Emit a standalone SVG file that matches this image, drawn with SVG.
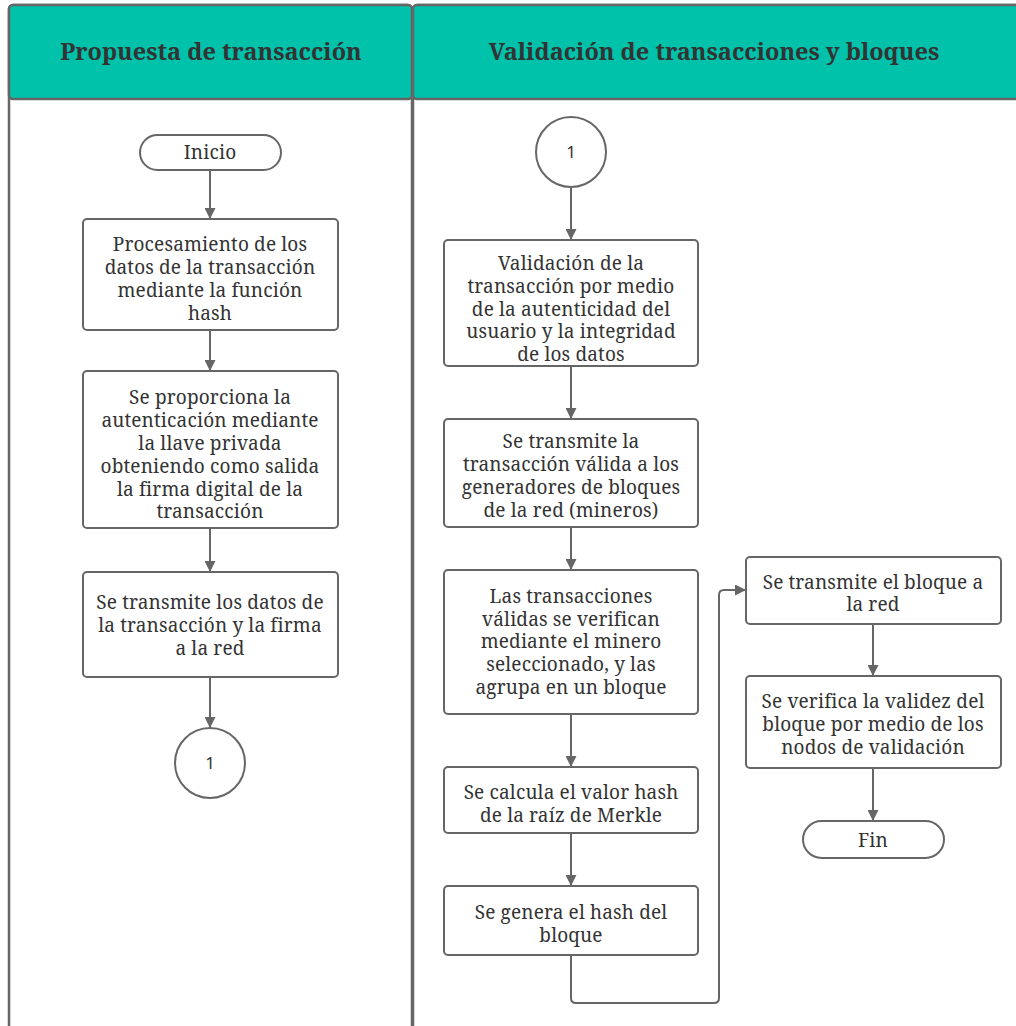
<svg xmlns="http://www.w3.org/2000/svg" width="1016" height="1026" viewBox="0 0 1016 1026">
  <style>
    .lane { fill: #ffffff; stroke: #666666; stroke-width: 2.5; }
    .head { fill: #00c1a9; stroke: #666666; stroke-width: 2.5; }
    .htxt { font-family: "Noto Serif", "DejaVu Serif", serif; font-weight: bold; font-size: 23.5px; fill: #333333; text-anchor: middle; }
    .box { fill: #ffffff; stroke: #666666; stroke-width: 2; }
    .txt { font-family: "Noto Serif", "DejaVu Serif", serif; font-size: 19px; letter-spacing: 0.15px; fill: #333333; text-anchor: middle; }
    .num { font-family: "Noto Sans", "DejaVu Sans", sans-serif; font-size: 17px; fill: #333333; text-anchor: middle; }
    .edge { fill: none; stroke: #666666; stroke-width: 2; marker-end: url(#arrow); }
  </style>
  <defs>
    <marker id="arrow" viewBox="0 0 10 10" refX="10" refY="5" markerWidth="5.5" markerHeight="5.5" orient="auto" markerUnits="strokeWidth">
      <path d="M0,0 L10,5 L0,10 z" fill="#666666"/>
    </marker>
  </defs>

  <!-- swimlanes -->
  <g id="lane-propuesta">
    <rect class="lane" x="9" y="5" width="403" height="1040" rx="4"/>
    <rect class="head" x="9" y="5" width="403" height="94" rx="4"/>
    <text class="htxt" x="211" y="60">Propuesta de transacción</text>
  </g>
  <g id="lane-validacion">
    <rect class="lane" x="413" y="5" width="620" height="1040" rx="4"/>
    <rect class="head" x="413" y="5" width="620" height="94" rx="4"/>
    <text class="htxt" x="714" y="60">Validación de transacciones y bloques</text>
  </g>

  <!-- connectors -->
  <g id="connectors">
    <path class="edge" d="M210,170 V219"/>
    <path class="edge" d="M210,330 V371"/>
    <path class="edge" d="M210,528 V572"/>
    <path class="edge" d="M210,677 V728"/>
    <path class="edge" d="M571,187 V240"/>
    <path class="edge" d="M571,366 V419"/>
    <path class="edge" d="M571,527 V570"/>
    <path class="edge" d="M571,714 V767"/>
    <path class="edge" d="M571,833 V886"/>
    <path class="edge" d="M571,955 V998 Q571,1003 576,1003 H714 Q719,1003 719,998 V595 Q719,590 724,590 H746"/>
    <path class="edge" d="M873,624 V676"/>
    <path class="edge" d="M873,768 V821"/>
  </g>

  <!-- left lane nodes -->
  <g id="inicio">
    <rect class="box" x="140" y="135" width="141" height="35" rx="17.5"/>
    <text class="txt" x="210" y="159">Inicio</text>
  </g>
  <g id="hash-datos">
    <rect class="box" x="83" y="219" width="255" height="111" rx="4"/>
    <text class="txt" x="210" y="251">Procesamiento de los</text>
    <text class="txt" x="210" y="274">datos de la transacción</text>
    <text class="txt" x="210" y="297">mediante la función</text>
    <text class="txt" x="210" y="320">hash</text>
  </g>
  <g id="firma">
    <rect class="box" x="83" y="371" width="255" height="157" rx="4"/>
    <text class="txt" x="210" y="404">Se proporciona la</text>
    <text class="txt" x="210" y="427">autenticación mediante</text>
    <text class="txt" x="210" y="450">la llave privada</text>
    <text class="txt" x="210" y="473">obteniendo como salida</text>
    <text class="txt" x="210" y="496">la firma digital de la</text>
    <text class="txt" x="210" y="518">transacción</text>
  </g>
  <g id="transmite-datos">
    <rect class="box" x="83" y="572" width="255" height="105" rx="4"/>
    <text class="txt" x="210" y="609">Se transmite los datos de</text>
    <text class="txt" x="210" y="632">la transacción y la firma</text>
    <text class="txt" x="210" y="655">a la red</text>
  </g>
  <g id="conector-1-salida">
    <circle class="box" cx="210" cy="763" r="35"/>
    <text class="num" x="210" y="769">1</text>
  </g>

  <!-- right lane nodes -->
  <g id="conector-1-entrada">
    <circle class="box" cx="571" cy="152" r="35"/>
    <text class="num" x="571" y="158">1</text>
  </g>
  <g id="validacion">
    <rect class="box" x="444" y="240" width="254" height="126" rx="4"/>
    <text class="txt" x="571" y="270">Validación de la</text>
    <text class="txt" x="571" y="293">transacción por medio</text>
    <text class="txt" x="571" y="316">de la autenticidad del</text>
    <text class="txt" x="571" y="338">usuario y la integridad</text>
    <text class="txt" x="571" y="361">de los datos</text>
  </g>
  <g id="transmite-valida">
    <rect class="box" x="444" y="419" width="254" height="108" rx="4"/>
    <text class="txt" x="571" y="448">Se transmite la</text>
    <text class="txt" x="571" y="471">transacción válida a los</text>
    <text class="txt" x="571" y="494">generadores de bloques</text>
    <text class="txt" x="571" y="517">de la red (mineros)</text>
  </g>
  <g id="agrupa-bloque">
    <rect class="box" x="444" y="570" width="254" height="144" rx="4"/>
    <text class="txt" x="571" y="603">Las transacciones</text>
    <text class="txt" x="571" y="626">válidas se verifican</text>
    <text class="txt" x="571" y="648">mediante el minero</text>
    <text class="txt" x="571" y="671">seleccionado, y las</text>
    <text class="txt" x="571" y="694">agrupa en un bloque</text>
  </g>
  <g id="merkle">
    <rect class="box" x="444" y="767" width="254" height="66" rx="4"/>
    <text class="txt" x="571" y="799">Se calcula el valor hash</text>
    <text class="txt" x="571" y="822">de la raíz de Merkle</text>
  </g>
  <g id="hash-bloque">
    <rect class="box" x="444" y="886" width="254" height="69" rx="4"/>
    <text class="txt" x="571" y="919">Se genera el hash del</text>
    <text class="txt" x="571" y="942">bloque</text>
  </g>
  <g id="transmite-bloque">
    <rect class="box" x="746" y="557" width="255" height="67" rx="4"/>
    <text class="txt" x="873" y="589">Se transmite el bloque a</text>
    <text class="txt" x="873" y="611">la red</text>
  </g>
  <g id="verifica-bloque">
    <rect class="box" x="746" y="676" width="255" height="92" rx="4"/>
    <text class="txt" x="873" y="708">Se verifica la validez del</text>
    <text class="txt" x="873" y="731">bloque por medio de los</text>
    <text class="txt" x="873" y="754">nodos de validación</text>
  </g>
  <g id="fin">
    <rect class="box" x="803" y="821" width="141" height="37" rx="18.5"/>
    <text class="txt" x="873" y="847">Fin</text>
  </g>
</svg>
